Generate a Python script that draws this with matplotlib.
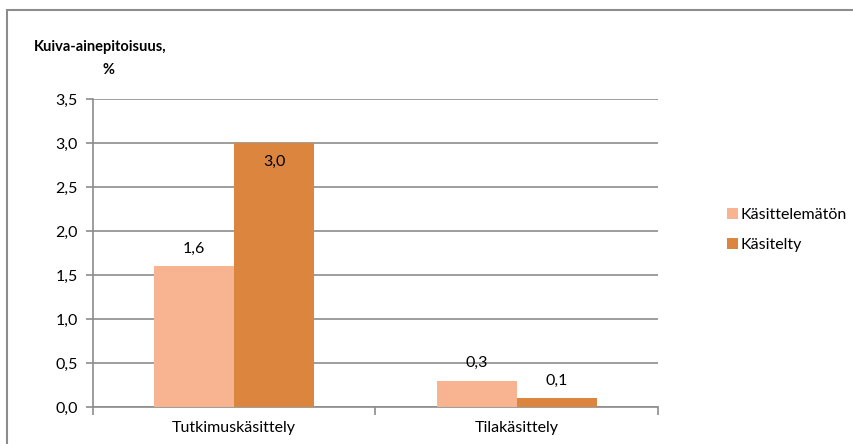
import numpy as np
import matplotlib
matplotlib.use('Agg')
import matplotlib.pyplot as plt
from matplotlib.patches import Rectangle

categories = ['Tutkimuskäsittely', 'Tilakäsittely']
kasittelematon = [1.6, 0.3]
kasitelty = [3.0, 0.1]
series_names = ['Käsittelemätön', 'Käsitelty']
colors = ['#F8B490', '#DC853E']

plt.rcParams['font.family'] = ['Lato', 'DejaVu Sans']
fs = 11.5

fig = plt.figure(figsize=(8.54, 4.44), dpi=100)
ax = fig.add_axes([93/854, 37/444, 565/854, 308/444])

x = np.arange(len(categories))
w = 0.283
b1 = ax.bar(x - w/2, kasittelematon, w, color=colors[0], label=series_names[0], zorder=3)
b2 = ax.bar(x + w/2, kasitelty, w, color=colors[1], label=series_names[1], zorder=3)

def fmt(v):
    return ('%.1f' % v).replace('.', ',')

for bars, vals in [(b1, kasittelematon), (b2, kasitelty)]:
    for r, v in zip(bars, vals):
        cx = r.get_x() + r.get_width()/2
        if v >= 2.9:
            ax.text(cx, v - 0.21, fmt(v), ha='center', va='center', fontsize=fs)
        else:
            ax.text(cx, v + 0.2, fmt(v), ha='center', va='center', fontsize=fs)

ax.set_xlim(-0.5, 1.5)
ax.set_ylim(0, 3.5)
yt = np.arange(0, 3.51, 0.5)
ax.set_yticks(yt)
ax.set_yticklabels([fmt(v) for v in yt], fontsize=fs)
ax.yaxis.grid(True, color='#8c8c8c', linewidth=1.2, zorder=0)
ax.set_axisbelow(True)

ax.set_xticks([-0.5, 0.5, 1.5])
ax.set_xticklabels([])
ax.set_xticks(x, minor=True)
ax.set_xticklabels(categories, minor=True, fontsize=fs)
ax.tick_params(axis='x', which='minor', length=0, pad=10)
ax.tick_params(axis='x', which='major', length=6, color='#8c8c8c', width=1.2)
ax.tick_params(axis='y', length=5, color='#8c8c8c', width=1.2, pad=6)

for s in ['top', 'right']:
    ax.spines[s].set_visible(False)
for s in ['left', 'bottom']:
    ax.spines[s].set_color('#8c8c8c')
    ax.spines[s].set_linewidth(1.2)

fig.text(100/854, 1 - 47/444, 'Kuiva-ainepitoisuus,', ha='center', va='center',
         fontsize=10.5, fontweight='bold')
fig.text(109/854, 1 - 70/444, '%', ha='center', va='center',
         fontsize=10.5, fontweight='bold')

ax.legend(loc='center left', bbox_to_anchor=(716/854, 1 - 230/444),
          bbox_transform=fig.transFigure, frameon=False, fontsize=fs,
          handlelength=0.7, handleheight=0.7, handletextpad=0.15, labelspacing=1.0,
          borderpad=0.2)

fig.patches.append(Rectangle((7/854, -0.1), 1, 1.1 - 10/444, transform=fig.transFigure,
                             fill=False, edgecolor='#8c8c8c', linewidth=1.5))

fig.savefig('out.png', dpi=100)
